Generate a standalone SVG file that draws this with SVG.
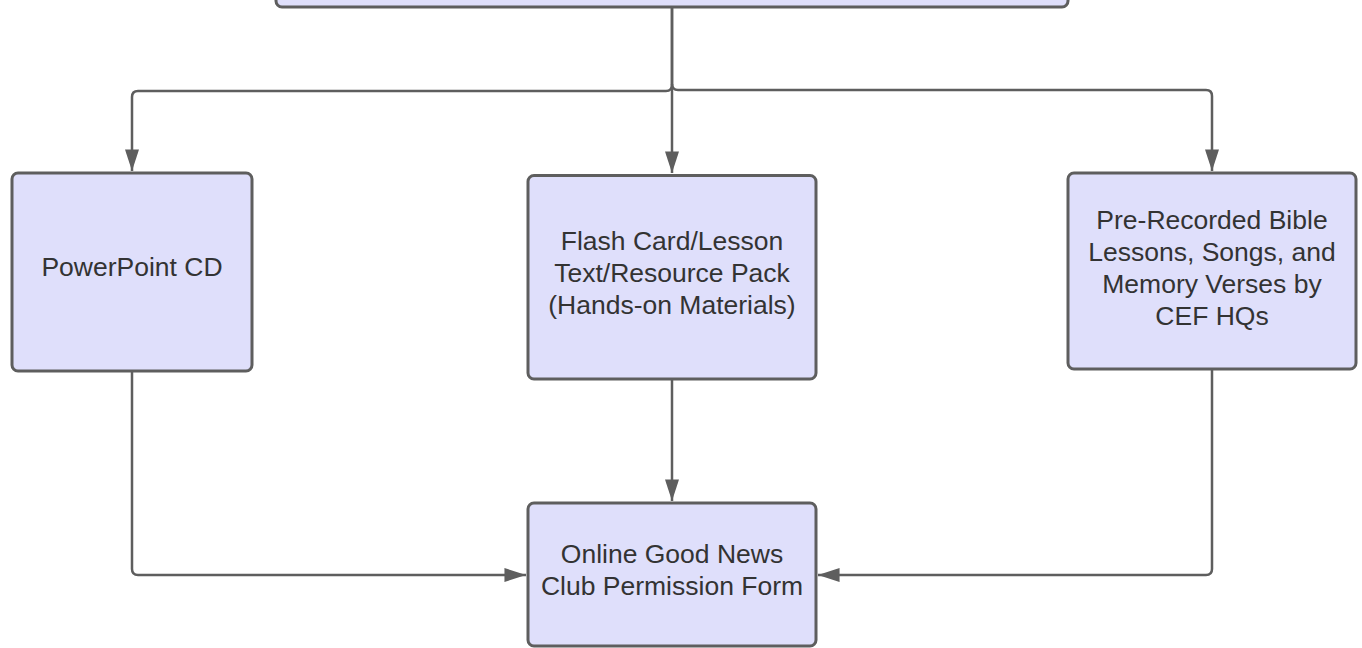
<svg xmlns="http://www.w3.org/2000/svg" width="1362" height="648" viewBox="0 0 1362 648">
<style>
.box{fill:#dfdffb;stroke:#5e5e5e;stroke-width:3}
.lbl{font-family:"Liberation Sans",Arial,sans-serif;font-size:26.5px;fill:#333333;text-anchor:middle}
.con{fill:none;stroke:#5e5e5e;stroke-width:2.5}
</style>
<defs>
<marker id="ah" markerUnits="userSpaceOnUse" markerWidth="22" markerHeight="14" viewBox="0 0 20 13" refX="20" refY="6.5" orient="auto">
<path d="M0,0 L20,6.5 L0,13 z" fill="#5e5e5e"/>
</marker>
</defs>
<g id="connectors">
<path class="con" d="M672,7 L672,85 Q672,91 666,91 L138,91 Q132,91 132,97 L132,171" marker-end="url(#ah)"/>
<path class="con" d="M672,84 Q672,90 678,90 L1206,90 Q1212,90 1212,96 L1212,171" marker-end="url(#ah)"/>
<path class="con" d="M672,7 L672,173" marker-end="url(#ah)"/>
<path class="con" d="M132,371 L132,569 Q132,575 138,575 L526,575" marker-end="url(#ah)"/>
<path class="con" d="M1212,369 L1212,569 Q1212,575 1206,575 L818,575" marker-end="url(#ah)"/>
<path class="con" d="M672,379 L672,501" marker-end="url(#ah)"/>
</g>
<g id="top">
<rect class="box" x="276" y="-60" width="792" height="67" rx="6"/>
</g>
<g id="powerpoint">
<rect class="box" x="12" y="173" width="240" height="198" rx="6"/>
<text class="lbl" x="132" y="275.5">PowerPoint CD</text>
</g>
<g id="flashcard">
<rect class="box" x="528" y="175.5" width="288" height="203.5" rx="6"/>
<text class="lbl" x="672" y="249.5">Flash Card/Lesson</text>
<text class="lbl" x="672" y="281.5">Text/Resource Pack</text>
<text class="lbl" x="672" y="313.5">(Hands-on Materials)</text>
</g>
<g id="prerecorded">
<rect class="box" x="1068" y="173" width="288" height="196" rx="6"/>
<text class="lbl" x="1212" y="228.5">Pre-Recorded Bible</text>
<text class="lbl" x="1212" y="260.5">Lessons, Songs, and</text>
<text class="lbl" x="1212" y="292.5">Memory Verses by</text>
<text class="lbl" x="1212" y="324.5">CEF HQs</text>
</g>
<g id="permission">
<rect class="box" x="528" y="503" width="288" height="143" rx="6"/>
<text class="lbl" x="672" y="562.5">Online Good News</text>
<text class="lbl" x="672" y="594.5">Club Permission Form</text>
</g>
</svg>
